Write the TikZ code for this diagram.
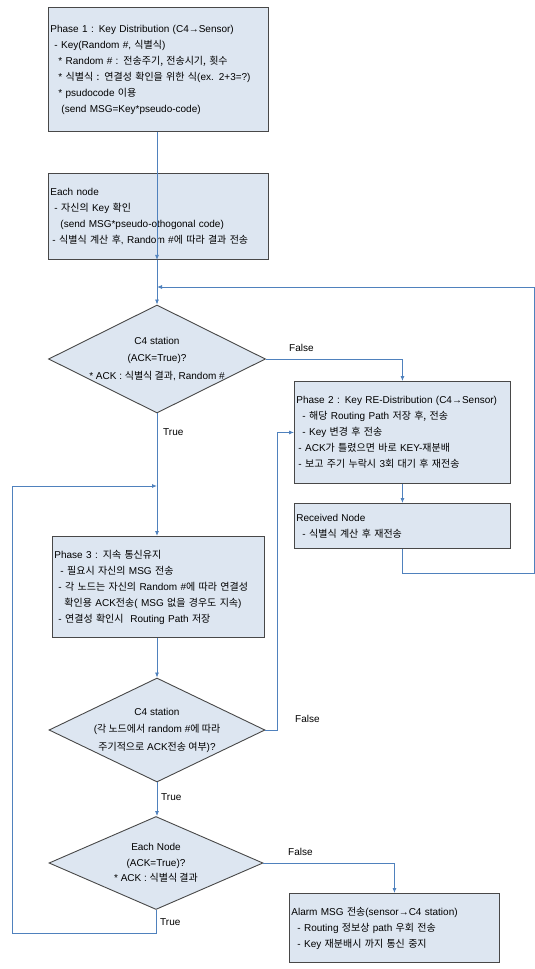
\documentclass[tikz,border=0pt]{standalone}
\usepackage{fontspec}
\setmainfont{Liberation Sans}
\newfontfamily\krfont{Noto Sans CJK KR}
\usetikzlibrary{arrows.meta,shapes.geometric}
\newcommand{\kor}[1]{{\krfont #1}}
\newcommand{\boxfont}{\fontsize{10}{16}\selectfont}
\newcommand{\drawflow}{\draw[flowline]}
\definecolor{boxfill}{RGB}{221,230,241}
\definecolor{boxline}{RGB}{72,72,72}
\definecolor{flow}{RGB}{79,129,189}
\tikzset{
  box/.style={draw=boxline, fill=boxfill, line width=0.9pt, anchor=north west,
    align=left, inner xsep=2pt, inner ysep=2pt, font=\boxfont},
  decision/.style={diamond, draw=boxline, fill=boxfill, line width=0.9pt, inner sep=0pt},
  dtext/.style={align=center, font=\fontsize{10}{17.5}\selectfont},
  flowline/.style={draw=flow, line width=0.8pt, -{Latex[length=5pt,width=4pt]}},
  tag/.style={font=\boxfont, anchor=west, inner sep=0pt}
}

\begin{document}
\begin{tikzpicture}[x=1pt,y=-1pt]
\useasboundingbox (0,0) rectangle (535,969);

\node[box, minimum width=220, minimum height=124, text width=216] (phaseone) at (48,7)
  {Phase 1 : Key Distribution (C4→Sensor)\\
   \hspace*{4pt}- Key(Random \#, \kor{식별식})\\
   \hspace*{8pt}* Random \# : \kor{전송주기, 전송시기, 횟수}\\
   \hspace*{8pt}* \kor{식별식 : 연결성 확인을 위한 식}(ex. 2+3=?)\\
   \hspace*{8pt}* psudocode \kor{이용}\\
   \hspace*{11pt}(send MSG=Key*pseudo-code)};
\node[box, minimum width=220, minimum height=86, text width=216] (eachnode) at (48,173)
  {Each node\\
   \hspace*{4pt}- \kor{자신의} Key \kor{확인}\\
   \hspace*{10pt}(send MSG*pseudo-othogonal code)\\
   \hspace*{2pt}- \kor{식별식 계산 후}, Random \#\kor{에 따라 결과 전송}};

\node[decision, minimum width=217, minimum height=108] (ackone) at (157,359) {};
\node[dtext] (ackonetext) at (ackone.center)
  {C4 station\\(ACK=True)?\\* ACK : \kor{식별식 결과}, Random \#};

\node[box, minimum width=216, minimum height=102, text width=212] (phasetwo) at (294,381)
  {Phase 2 : Key RE-Distribution (C4→Sensor)\\
   \hspace*{6pt}- \kor{해당} Routing Path \kor{저장 후, 전송}\\
   \hspace*{6pt}- Key \kor{변경 후 전송}\\
   \hspace*{2pt}- ACK\kor{가 틀렸으면 바로} KEY-\kor{재분배}\\
   \hspace*{2pt}- \kor{보고 주기 누락시} 3\kor{회 대기 후 재전송}};
\node[box, minimum width=216, minimum height=45, text width=212] (received) at (294,503)
  {Received Node\\
   \hspace*{6pt}- \kor{식별식 계산 후 재전송}};

\node[box, minimum width=212, minimum height=101, text width=208] (phasethree) at (52,536)
  {Phase 3 : \kor{지속 통신유지}\\
   \hspace*{6pt}- \kor{필요시 자신의} MSG \kor{전송}\\
   \hspace*{4pt}- \kor{각 노드는 자신의} Random \#\kor{에 따라 연결성}\\
   \hspace*{10pt}\kor{확인용} ACK\kor{전송}( MSG \kor{없을 경우도 지속})\\
   \hspace*{4pt}- \kor{연결성 확인시}\ \ Routing Path \kor{저장}};

\node[decision, minimum width=216, minimum height=104] (acktwo) at (157,730) {};
\node[dtext] (acktwotext) at (acktwo.center)
  {C4 station\\(\kor{각 노드에서} random \#\kor{에 따라}\\\kor{주기적으로} ACK\kor{전송 여부})?};

\node[decision, minimum width=214, minimum height=93] (ackthree) at (156,863) {};
\node[dtext, font=\fontsize{10}{15.5}\selectfont] (ackthreetext) at (ackthree.center)
  {Each Node\\(ACK=True)?\\* ACK : \kor{식별식 결과}};

\node[box, minimum width=210, minimum height=69, text width=206] (alarm) at (289,893)
  {Alarm MSG \kor{전송}(sensor→C4 station)\\
   \hspace*{6pt}- Routing \kor{정보상} path \kor{우회 전송}\\
   \hspace*{6pt}- Key \kor{재분배시 까지 통신 중지}};

\coordinate (mergeone) at (157,287);
\coordinate (rightturn) at (534,573);
\coordinate (mergetwo) at (157,486);
\coordinate (loopcorner) at (12,933);
\coordinate (bendtwo) at (277,730);

\drawflow (phaseone.south -| ackone.north) -- (eachnode.south -| ackone.north);
\drawflow (eachnode.south -| ackone.north) -- (ackone.north);
\drawflow (received.south) |- (rightturn) |- (mergeone);
\drawflow (ackone.east) -| (phasetwo.north);
\drawflow (ackone.south) -- (phasethree.north -| ackone.south);
\drawflow (phasetwo.south) -- (received.north);
\drawflow (phasethree.south -| acktwo.north) -- (acktwo.north);
\drawflow (acktwo.east) -- (bendtwo) |- (phasetwo.west);
\drawflow (acktwo.south) -- (ackthree.north -| acktwo.south);
\drawflow (ackthree.east) -| (alarm.north);
\drawflow (ackthree.south) |- (loopcorner) |- (mergetwo);

\node[tag] (falseone) at (289,348) {False};
\node[tag] (trueone) at (163,432) {True};
\node[tag] (falsetwo) at (295,719) {False};
\node[tag] (truetwo) at (161,797) {True};
\node[tag] (falsethree) at (288,852) {False};
\node[tag] (truethree) at (160,922) {True};
\end{tikzpicture}
\end{document}
